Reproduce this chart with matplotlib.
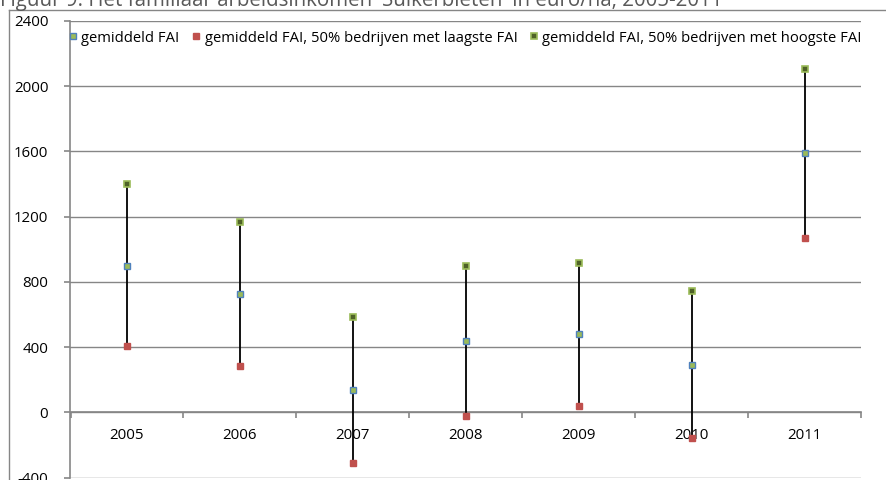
import matplotlib
matplotlib.use("Agg")
import matplotlib.pyplot as plt
from matplotlib.lines import Line2D
import numpy as np

years = ["2005", "2006", "2007", "2008", "2009", "2010", "2011"]
fai_mean = [900, 725, 140, 440, 478, 293, 1588]
fai_low = [405, 283, -308, -23, 39, -160, 1070]
fai_high = [1400, 1168, 582, 900, 915, 745, 2108]
yticks = [-400, 0, 400, 800, 1200, 1600, 2000, 2400]
labels = ["gemiddeld FAI",
          "gemiddeld FAI, 50% bedrijven met laagste FAI",
          "gemiddeld FAI, 50% bedrijven met hoogste FAI"]
title = "Figuur 9: Het familiaar arbeidsinkomen 'Suikerbieten' in euro/ha, 2005-2011"

plt.rcParams['font.family'] = ['Open Sans', 'DejaVu Sans']

W, H = 887, 480
fig = plt.figure(figsize=(W / 100, H / 100), dpi=100)
ax = fig.add_axes([70.5 / W, 2.4 / H, (861 - 70.5) / W, (459 - 2.4) / H])

grey = "#868686"
x = np.arange(len(years))

ax.vlines(x, fai_low, fai_high, color="black", lw=1.3, zorder=3)
ax.plot(x, fai_mean, ls="none", marker="s", ms=4.6, mfc="#9BBB59", mec="#4F81BD",
        mew=1.0, zorder=4, label=labels[0])
ax.plot(x, fai_low, ls="none", marker="s", ms=4.6, mfc="#C0504D", mec="#C0504D",
        mew=1.0, zorder=4, label=labels[1])
ax.plot(x, fai_high, ls="none", marker="s", ms=4.6, mfc="#4F6228", mec="#9BBB59",
        mew=1.2, zorder=4, label=labels[2])

ax.set_xlim(-0.5, len(years) - 0.5)
ax.set_ylim(yticks[0], yticks[-1])
ax.set_yticks(yticks)
ax.set_yticklabels([str(v) for v in yticks], fontsize=10.8)
ax.yaxis.grid(True, color=grey, lw=1.0)
ax.set_axisbelow(True)

ax.spines['top'].set_visible(False)
ax.spines['right'].set_visible(False)
ax.spines['left'].set_color(grey)
ax.spines['left'].set_linewidth(1.2)
ax.spines['bottom'].set_position(('data', 0))
ax.spines['bottom'].set_color(grey)
ax.spines['bottom'].set_linewidth(1.2)

ax.set_xticks(x)
ax.set_xticklabels(years, fontsize=10.8)
ax.tick_params(axis='x', which='major', length=0, pad=11)
ax.set_xticks(np.arange(len(years) + 1) - 0.5, minor=True)
ax.tick_params(axis='x', which='minor', length=4, color=grey, width=1.2, direction='out')
ax.tick_params(axis='y', length=4, color=grey, width=1.2, pad=12)

leg = ax.legend(loc="center", bbox_to_anchor=(0.5, 1 - (38 - 21) / (459 - 2.4)),
                ncol=3, frameon=False, fontsize=10.6, handlelength=0.5,
                handletextpad=0.3, columnspacing=0.9, borderaxespad=0)

# outer chart frame
fig.add_artist(Line2D([9 / W, 1.0], [1 - 10 / H, 1 - 10 / H], color=grey, lw=1.0))
fig.add_artist(Line2D([9 / W, 9 / W], [0, 1 - 10 / H], color=grey, lw=1.0))

fig.text(0.0, 1 - 6 / H, title, fontsize=14.8, color="#595959", ha="left", va="baseline")

fig.savefig("out.png", dpi=100)
